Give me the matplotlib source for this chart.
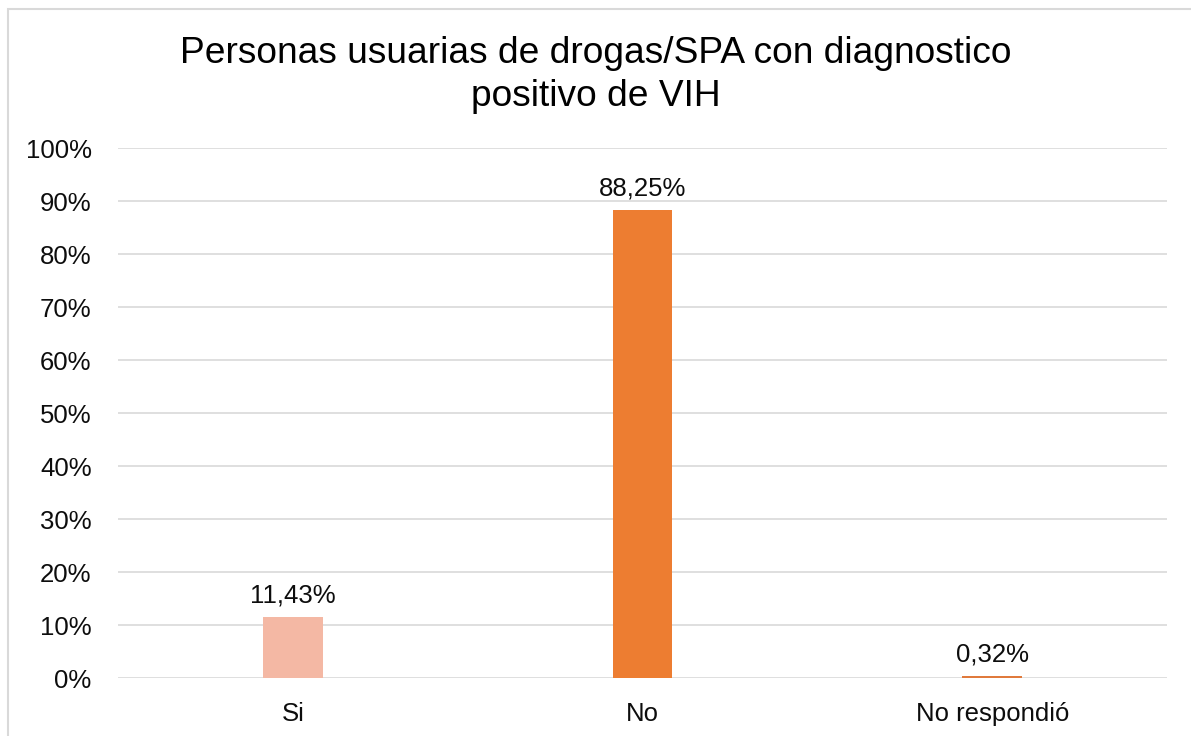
import matplotlib.pyplot as plt
from matplotlib.patches import Rectangle

plt.rcParams['font.family'] = ['Liberation Sans', 'DejaVu Sans']

categorias = ['Si', 'No', 'No respondió']
porcentajes = [11.43, 88.25, 0.32]
colores = ['#F4B8A4', '#ED7D31', '#E07A3C']
ticks_y = list(range(0, 101, 10))

fig = plt.figure(figsize=(11.91, 7.36), dpi=100)
ax = fig.add_axes([0.0991, 0.0788, 0.8808, 0.7201])

x = range(len(categorias))
ax.bar(x, porcentajes, width=0.17, color=colores, zorder=3)

for xi, v in zip(x, porcentajes):
    ax.annotate(f'{v:.2f}%'.replace('.', ','), (xi, v), xytext=(0, 7),
                textcoords='offset points', ha='center', va='bottom',
                fontsize=18.5, color='#0D0D0D')

ax.set_xlim(-0.5, 2.5)
ax.set_ylim(0, 100)
ax.set_yticks(ticks_y)
ax.set_yticklabels([f'{t}%' for t in ticks_y])
ax.set_xticks(list(x))
ax.set_xticklabels(categorias)
ax.tick_params(axis='both', length=0, labelsize=18.5, colors='#0D0D0D')
ax.tick_params(axis='x', pad=17)
ax.tick_params(axis='y', pad=19)
ax.grid(axis='y', color='#D9D9D9', linewidth=1.2, zorder=0)
for s in ax.spines.values():
    s.set_visible(False)

fig.text(0.5, 0.898, 'Personas usuarias de drogas/SPA con diagnostico\npositivo de VIH',
         ha='center', va='center', fontsize=26.7, color='#000000', linespacing=1.27)

# marco exterior del gráfico
fig.patches.append(Rectangle((8 / 1191, -0.02), 1.2, 1 - 9 / 736 + 0.02,
                             transform=fig.transFigure, fill=False,
                             edgecolor='#D9D9D9', linewidth=1.5))

fig.savefig('out.png', dpi=100)
